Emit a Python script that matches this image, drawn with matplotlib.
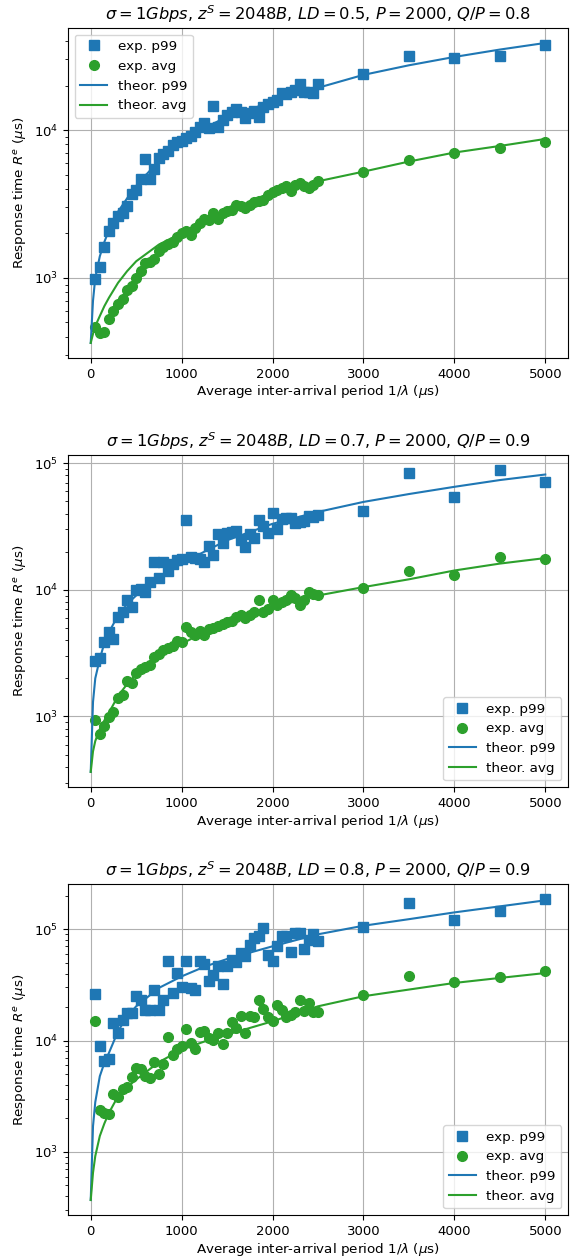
import matplotlib
matplotlib.use('Agg')
import matplotlib.pyplot as plt

# Measured inter-arrival periods (us)
x_exp = [50, 100, 150, 200, 250, 300, 350, 400, 450, 500,
         550, 600, 650, 700, 750, 800, 850, 900, 950, 1000,
         1050, 1100, 1150, 1200, 1250, 1300, 1350, 1400, 1450, 1500,
         1550, 1600, 1650, 1700, 1750, 1800, 1850, 1900, 1950, 2000,
         2050, 2100, 2150, 2200, 2250, 2300, 2350, 2400, 2450, 2500,
         3000, 3500, 4000, 4500, 5000]

# x positions where the theoretical curves are shown
x_theor = [0, 25, 50, 100, 150, 200, 300, 400, 500, 750, 1000,
           1250, 1500, 2000, 2500, 3000, 3500, 4000, 4500, 5000]

titles = [
    r'$\sigma = 1Gbps$, $z^S = 2048B$, $LD = 0.5$, $P = 2000$, $Q/P = 0.8$',
    r'$\sigma = 1Gbps$, $z^S = 2048B$, $LD = 0.7$, $P = 2000$, $Q/P = 0.9$',
    r'$\sigma = 1Gbps$, $z^S = 2048B$, $LD = 0.8$, $P = 2000$, $Q/P = 0.9$',
]

# LD = 0.5
p99_1 = [990, 1180, 1610, 2070, 2350, 2640, 2740, 3040, 3680, 3940,
         4680, 6340, 4680, 5460, 6440, 6850, 7210, 7930, 8340, 8480,
         8790, 9120, 9750, 10500, 11200, 10260, 14500, 10500, 11700, 12600,
         13300, 13800, 13300, 12100, 13100, 13500, 12300, 14200, 14900, 15400,
         15900, 17900, 17400, 18100, 18600, 20400, 18100, 18100, 17800, 20600,
         23900, 31800, 30900, 31800, 37400]
avg_1 = [468, 422, 433, 524, 596, 661, 714, 834, 879, 1000,
         1110, 1260, 1290, 1340, 1510, 1610, 1690, 1750, 1880, 2010,
         2060, 1950, 2170, 2350, 2500, 2480, 2740, 2500, 2740, 2840,
         2890, 3120, 3080, 2960, 3120, 3240, 3290, 3370, 3650, 3780,
         3940, 4040, 4150, 3840, 4260, 4410, 4150, 4040, 4260, 4550,
         5230, 6280, 6970, 7520, 8300]
th_p99_1 = [363, 700, 1000, 1400, 1750, 2100, 2800, 3450, 4200, 6200, 8300,
            10300, 12300, 15500, 19300, 23600, 27400, 31200, 35000, 38800]
th_avg_1 = [363, 418, 472, 552, 644, 733, 925, 1110, 1295, 1680, 2010,
            2400, 2850, 3740, 4500, 5230, 6120, 7040, 7800, 8700]

# LD = 0.7
p99_2 = [2760, 2870, 3860, 4620, 4090, 6080, 6660, 8240, 7290, 10000,
         10200, 9590, 11500, 16600, 12400, 16700, 14200, 16100, 17100, 17600,
         35400, 18100, 17900, 17400, 16600, 22200, 18900, 27700, 23500, 27900,
         28500, 29000, 24900, 21900, 27600, 25800, 35600, 32100, 27900, 40400,
         30200, 36200, 36700, 36900, 33500, 34100, 35200, 38500, 37400, 39300,
         42000, 83800, 53800, 88100, 71100]
avg_2 = [942, 733, 843, 994, 1076, 1410, 1480, 1910, 1850, 2200,
         2370, 2470, 2550, 2930, 3110, 3350, 3470, 3580, 3970, 3850,
         5060, 4620, 4400, 4770, 4400, 4910, 4960, 5220, 5390, 5610,
         5720, 6080, 6270, 5970, 6380, 6660, 8240, 6660, 7080, 8380,
         7600, 8080, 8240, 9020, 8600, 7520, 8380, 9590, 9290, 9020,
         10400, 14000, 13000, 18100, 17400]
th_p99_2 = [365, 1300, 2000, 2850, 3800, 4620, 6270, 7700, 9020, 12600, 16100,
            20000, 24600, 33200, 41200, 49400, 57000, 65000, 73500, 81300]
th_avg_2 = [365, 530, 640, 795, 930, 1070, 1450, 1800, 2160, 3000, 3740,
            4650, 5550, 7290, 9020, 10500, 12100, 14200, 16100, 17800]

# LD = 0.8
p99_3 = [26400, 8890, 6620, 6760, 14400, 11700, 15200, 17700, 17700, 25300,
         23300, 19000, 19000, 28700, 19000, 23000, 51500, 26800, 40400, 30300,
         51500, 29700, 28700, 51500, 49000, 34000, 39100, 47100, 32200, 47100,
         53200, 50500, 61100, 57800, 72600, 83400, 86300, 102000, 59000, 51500,
         70200, 86300, 87500, 61900, 92500, 92500, 66400, 80500, 91300, 77800,
         104500, 171800, 121600, 146700, 186700]
avg_3 = [15100, 2400, 2250, 2170, 3330, 3130, 3690, 3840, 4690, 5690,
         5500, 4790, 4630, 6400, 5060, 6220, 10700, 7480, 8410, 8890,
         12700, 9530, 8480, 11900, 12300, 10600, 10200, 11600, 9400, 11700,
         14700, 13000, 16500, 11700, 16500, 16200, 23000, 19200, 16200, 14900,
         20700, 18700, 16200, 17100, 18000, 23000, 18600, 21800, 18000, 18000,
         25900, 37800, 33400, 37000, 41900]
th_p99_3 = [370, 1700, 2800, 4790, 6300, 7740, 12100, 16500, 20300, 29700, 37700,
            46000, 54000, 70200, 90000, 107400, 123000, 141500, 160300, 181600]
th_avg_3 = [370, 650, 918, 1390, 1800, 2240, 3160, 3800, 4470, 6400, 8300,
            9800, 11300, 14900, 20300, 25000, 28700, 32900, 36500, 40400]

panels = [
    (p99_1, avg_1, th_p99_1, th_avg_1, 'upper left'),
    (p99_2, avg_2, th_p99_2, th_avg_2, 'lower right'),
    (p99_3, avg_3, th_p99_3, th_avg_3, 'lower right'),
]

plt.rcParams['xtick.labelsize'] = 9.5
plt.rcParams['ytick.labelsize'] = 9.5

fig = plt.figure(figsize=(5.7, 12.59), dpi=100)
boxes = [(0.1193, 0.7157, 0.8772, 0.2621),
         (0.1193, 0.3749, 0.8772, 0.2637),
         (0.1193, 0.0349, 0.8772, 0.2630)]

for box, title, (p99, avg, tp, ta, loc) in zip(boxes, titles, panels):
    ax = fig.add_axes(box)
    ax.plot(x_exp, p99, 's', ms=7, color='tab:blue', label='exp. p99')
    ax.plot(x_exp, avg, 'o', ms=7, color='tab:green', label='exp. avg')
    ax.plot(x_theor, tp, '-', color='tab:blue', label='theor. p99')
    ax.plot(x_theor, ta, '-', color='tab:green', label='theor. avg')
    ax.set_yscale('log')
    ax.set_xticks([0, 1000, 2000, 3000, 4000, 5000])
    ax.grid(True)
    ax.set_title(title, fontsize=11.7)
    ax.set_xlabel(r'Average inter-arrival period $1/\lambda$ ($\mu$s)',
                  fontsize=9.7, labelpad=2)
    ax.set_ylabel(r'Response time $R^e$ ($\mu$s)', fontsize=9.7)
    ax.legend(loc=loc, fontsize=9.7)

fig.savefig('out.png', dpi=100)
